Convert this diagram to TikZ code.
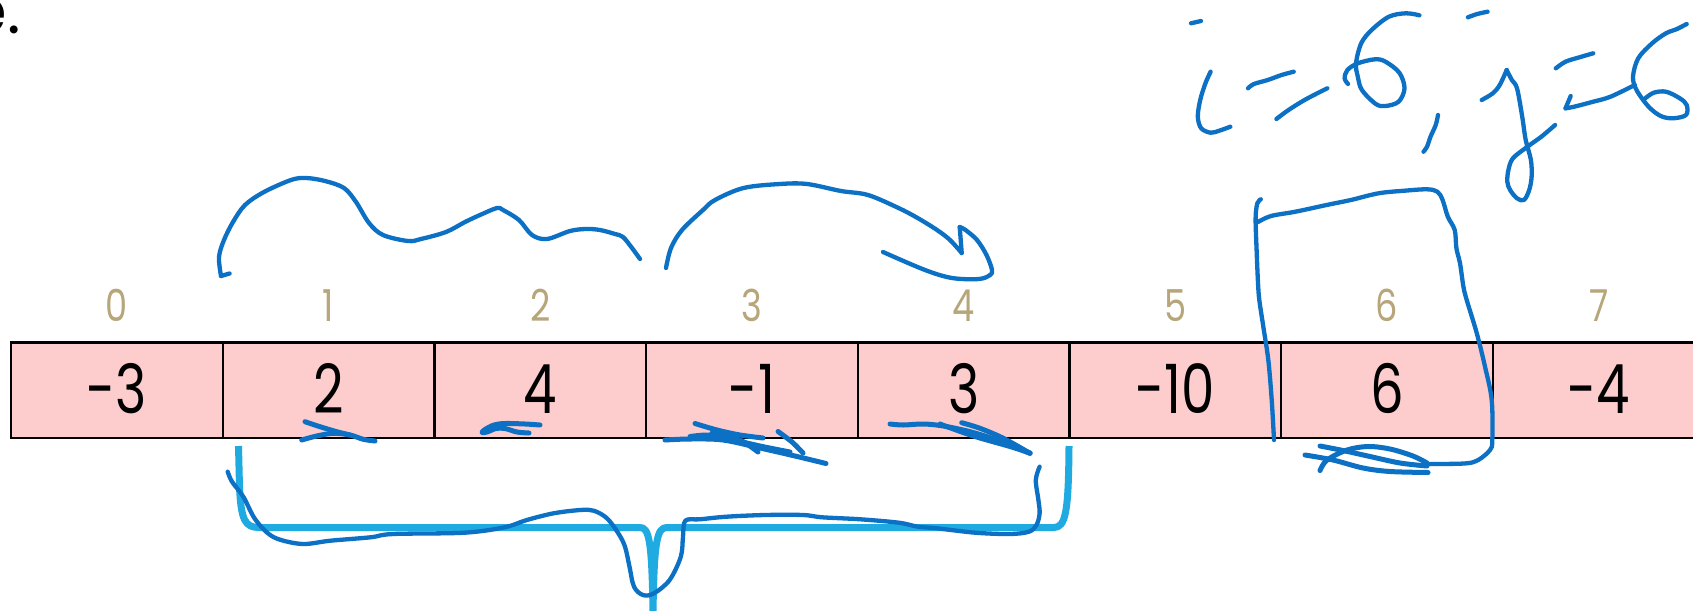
\documentclass[tikz,border=0pt]{standalone}
\usepackage{fontspec}
\setmainfont{Poppins}
\newfontfamily\valfont[FakeStretch=0.78]{Poppins}
\newfontfamily\idxfont[FakeStretch=0.8]{Poppins}
\definecolor{cellpink}{RGB}{253,205,205}
\definecolor{idxtan}{RGB}{183,166,122}
\definecolor{inkblue}{RGB}{12,112,196}
\definecolor{braceblue}{RGB}{31,170,225}
\tikzset{
  cell/.style={draw=black, line width=2.4pt, fill=cellpink, minimum width=211.7pt, minimum height=95.5pt, inner sep=0pt, outer sep=0pt},
  val/.style={font=\valfont\fontsize{68}{72}\selectfont, text=black, inner sep=0pt, anchor=base},
  idx/.style={font=\idxfont\fontsize{44}{48}\selectfont, text=idxtan, inner sep=0pt, anchor=base},
  pen/.style={draw=inkblue, line width=4.3pt, line cap=round, line join=round},
  penthick/.style={draw=inkblue, line width=5pt, line cap=round, line join=round},
  bracepen/.style={draw=braceblue, line width=7pt, line join=round},
  cuttext/.style={font=\fontsize{64}{68}\selectfont, inner sep=0pt},
}
\begin{document}
\begin{tikzpicture}[x=1pt,y=-1pt]
\useasboundingbox (0,0) rectangle (1693,610);
\clip (0,0) rectangle (1693,610);
\fill[white] (0,0) rectangle (1693,610);

% cut-off text at top-left
\node[cuttext, anchor=base east] (etext) at (7,34) {e};
\node[cuttext, anchor=base] (edot) at (14.7,34) {.};

% array cells, indices and values
\foreach \i/\v in {0/-3,1/2,2/4,3/-1,4/3,5/-10,6/6,7/-4}{
  \pgfmathsetmacro{\cx}{11+211.7*\i+105.85}
  \node[cell] (c\i) at (\cx,390.25) {};
  \node[val] (v\i) at (\cx,413) {\v};
  \node[idx] (n\i) at (\cx,321) {\i};
}

% light blue brace under cells 1-4
\draw[bracepen] (238.5,446) -- (239.5,487) .. controls (241,520) and (245,527.5) .. (259,527.5)
  -- (640,527.5) .. controls (649,527.5) and (652,540) .. (653,614)
  .. controls (654,540) and (657,527.5) .. (667,527.5)
  -- (1054,527.5) .. controls (1066,527.5) and (1068.5,510) .. (1069,446);

% squiggle over cells 1-2
\draw[pen] (229.6,273.5) -- (221,276);
\draw[pen] plot[smooth, tension=0.55] coordinates {(221,276) (219,257) (224,240) (233,222) (245,205) (264,192) (291,180) (306,178) (325,181) (344,188) (356,202) (369,223) (383,235) (408,241) (421,239) (446,232) (465,222) (480,215) (497,208) (503,210) (519,220) (532,235) (547,239) (570,231) (586,229) (600,230) (615,234) (623,237) (632,248) (640,259)};

% arc with hand-drawn arrowhead, cell 3 to 4
\draw[pen] plot[smooth, tension=0.55] coordinates {(666,268) (671,248) (682,230) (703,210) (715,200) (743.5,188) (780,184) (807,184) (841,191) (868,195) (898.5,208) (917.6,218) (937,230) (950,240) (961.7,253)};
\draw[pen] (961.7,253) -- (959.7,227);
\draw[pen] plot[smooth, tension=0.55] coordinates {(959.7,227) (965.5,230) (977,240) (986.5,255) (992,270) (990,275) (979,279) (952,278) (925,270) (883,252)};

% handwriting i=6, j=6
\draw[pen] (1191,23.3) -- (1201,21);
\draw[pen] plot[smooth, tension=0.55] coordinates {(1210.6,71.7) (1205.4,83.3) (1200.2,100) (1197.8,116.7) (1201.2,128.3) (1210.6,132.7) (1219.3,130.7) (1230.3,126.7)};
\draw[pen] plot[smooth, tension=0.55] coordinates {(1248,88.3) (1253.9,84) (1267.7,80) (1281.6,75) (1293.7,71.7)};
\draw[pen] plot[smooth, tension=0.55] coordinates {(1276.4,119) (1288.5,110) (1305.8,99.3) (1327.3,88.3)};
\draw[pen] plot[smooth, tension=0.55] coordinates {(1419.4,15.3) (1406,13.3) (1388.9,16.7) (1371.6,30) (1361.2,43.3) (1356,63.3) (1357.8,76.7) (1361.9,90) (1375.8,104) (1385.5,106) (1398.6,101.7) (1404.5,88.3) (1399.3,72.7) (1385.5,61.7) (1375,59.3) (1357.8,63.3) (1347.4,70) (1344.6,78.3) (1348,84)};
\draw[pen] plot[smooth, tension=0.55] coordinates {(1438,115) (1435.7,125) (1430.5,136.7) (1427,146.7) (1423.5,151.7)};
\draw[pen] plot[smooth, tension=0.55] coordinates {(1467.9,17.3) (1477.2,14) (1487.6,11.7)};
\draw[pen] plot[smooth, tension=0.55] coordinates {(1481.7,100) (1492.8,93.3) (1499.7,85) (1506.7,70)};
\draw[pen] plot[smooth, tension=0.55] coordinates {(1506.7,70) (1511.8,80) (1517,88.3) (1522.2,116.7) (1525.7,140) (1530.9,160) (1531.6,176.7) (1529.2,190) (1524,200) (1517,198.3) (1510.1,190) (1507.3,181.7) (1508.4,170) (1512.9,158.3) (1527.4,146.7) (1541.3,136.7) (1555.1,125)};
\draw[pen] plot[smooth, tension=0.55] coordinates {(1555.8,68.3) (1565.5,61.7) (1579.4,57.3) (1593.2,53.3)};
\draw[pen] (1570.7,96) -- (1565.5,108.3);
\draw[pen] plot[smooth, tension=0.55] coordinates {(1565.5,108.3) (1574.2,106.7) (1593.2,101.7) (1610.5,96.7) (1634.8,85)};
\draw[pen] plot[smooth, tension=0.55] coordinates {(1686.7,24) (1676.3,29.3) (1665.9,33.3) (1652.1,43.3) (1638.2,58.3) (1633,76.7) (1636.5,90) (1648.6,106.7) (1660.7,116) (1672.9,118.3) (1686,115) (1686.7,105) (1679.8,98.3) (1666,91.7) (1653.8,92.7) (1645.2,98.3)};

% hand-drawn box around cell 6
\draw[pen] plot[smooth, tension=0.55] coordinates {(1260.8,199.3) (1257.3,203.3) (1255.6,218.3) (1256.6,250) (1258,283) (1259.3,300) (1263.3,326.7) (1268.3,360) (1271.7,400) (1274,440)};
\draw[pen] plot[smooth, tension=0.55] coordinates {(1258,222) (1271,216) (1295.4,211.7) (1326.6,205) (1350.8,200) (1378.5,193.3) (1404.5,190.7) (1427,189.3) (1437.4,191.7) (1442.6,200) (1447.8,216.7) (1454.7,230) (1456.4,248.3) (1460,263.3) (1463.4,286.7) (1466.7,300) (1476.7,333) (1485,366.7) (1491.7,400) (1492.3,440) (1490,450) (1478.3,460) (1466.7,463.3) (1440,464) (1428,464)};
% left arrow under 6
\draw[penthick] plot[smooth, tension=0.55] coordinates {(1320,446) (1343,450.5) (1370,456.5) (1400,463) (1427,466)};
\draw[penthick] plot[smooth, tension=0.55] coordinates {(1305,455) (1333,460) (1363,468) (1390,471.5) (1428,472.5)};
\draw[penthick] plot[smooth, tension=0.55] coordinates {(1320,470.5) (1327,460) (1347,450) (1368,446.5) (1390,449) (1413,456) (1427,463)};

% small arrows under 2 and 4
\draw[penthick] plot[smooth, tension=0.55] coordinates {(305,421.7) (320,426.7) (336.7,431.7) (350,435)};
\draw[penthick] plot[smooth, tension=0.55] coordinates {(301.7,440) (316.7,436) (333.3,433.3) (350,435) (363.3,439.3) (375,441)};
\draw[penthick] plot[smooth, tension=0.55] coordinates {(540,425) (525,424) (505,423.5) (494,425) (485,429.5) (482,432.5) (487,432) (496,428.5) (505,428.5) (517,432) (529,433)};

% scribbles under -1
\draw[penthick] plot[smooth, tension=0.55] coordinates {(665,440) (690,439) (723,440) (760,448) (795,456) (826,463.5)};
\draw[penthick] plot[smooth, tension=0.55] coordinates {(695,423.5) (717,430) (740,435) (763,438)};
\draw[penthick] plot[smooth, tension=0.55] coordinates {(690,436.5) (707,435) (727,437) (742,441) (758,452)};
\draw[penthick] plot[smooth, tension=0.55] coordinates {(778,431.5) (792,442) (803,453)};
\draw[penthick] plot[smooth, tension=0.55] coordinates {(712,433) (735,440) (760,446) (790,452)};

% scribbles under 3
\draw[penthick] plot[smooth, tension=0.55] coordinates {(890,424) (903.3,425) (923.3,424) (943.3,426) (970,431.7) (996.7,440) (1030,453.3)};
\draw[penthick] plot[smooth, tension=0.55] coordinates {(961.7,422.7) (980,428.3) (1003.3,438.3) (1030,453.3)};
\draw[penthick] plot[smooth, tension=0.55] coordinates {(940,424) (946.5,426.5) (975,436.5) (1010,446.5) (1030,453)};

% hand-drawn brace
\draw[pen] plot[smooth, tension=0.55] coordinates {(227.7,471.7) (232,481.7) (243.3,496.7) (254.5,518.3) (267.9,533.3) (281,540) (303.6,544) (330.4,540.7) (370.5,537.3) (392.9,534) (464.3,532.7) (504.5,527.3) (526.8,520) (553.6,513.3) (580.4,510) (593.8,510.7) (607,518.3) (618.3,533.3) (625,546.7) (629.5,566.7) (634,586.7) (642.9,595) (654,593.3) (669.6,580) (680.8,556.7) (683,536.7) (685.3,520.7) (700,519.3) (726.5,516.7) (764.8,515) (803,515) (822.2,517.3) (860.5,519.3) (898.8,522.7) (918,526.7) (937,528.3) (975.3,532.7) (1009.7,534) (1028.9,531.7) (1036.5,525) (1039.6,513.3) (1038.4,500) (1035.8,480) (1039.6,466.7)};
\end{tikzpicture}
\end{document}
